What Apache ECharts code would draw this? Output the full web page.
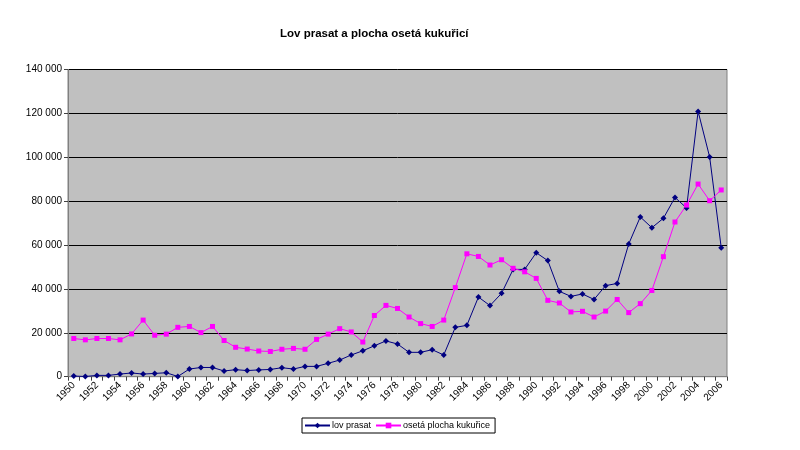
<!DOCTYPE html>
<html>
<head>
<meta charset="utf-8">
<script src="https://cdn.jsdelivr.net/npm/echarts@6/dist/echarts.min.js"></script>
<style>
html,body{margin:0;padding:0;background:#fff;}
#chart{width:800px;height:450px;}
</style>
</head>
<body>
<div id="chart"></div>
<script>
var years = ['1950','1951','1952','1953','1954','1955','1956','1957','1958','1959',
  '1960','1961','1962','1963','1964','1965','1966','1967','1968','1969',
  '1970','1971','1972','1973','1974','1975','1976','1977','1978','1979',
  '1980','1981','1982','1983','1984','1985','1986','1987','1988','1989',
  '1990','1991','1992','1993','1994','1995','1996','1997','1998','1999',
  '2000','2001','2002','2003','2004','2005','2006'];

var lovPrasat = [300,100,600,600,1200,1700,1200,1500,1800,100,
  3500,4200,4200,2600,3200,2800,3100,3300,4100,3500,
  4700,4700,6100,7600,9900,11800,14100,16300,14900,11100,
  11100,12300,9900,22500,23400,36300,32400,38000,48900,48900,
  56500,52900,38900,36600,37700,35200,41500,42500,60500,72800,
  67900,72200,81700,76900,120900,100100,58800];

var osetaPlocha = [17400,16800,17400,17400,16800,19500,25800,18900,19400,22500,
  22900,20100,22900,16500,13400,12600,11700,11500,12500,12900,
  12500,17000,19400,21900,20400,15800,27900,32500,31100,27200,
  24200,22900,25800,40600,56000,54800,50900,53300,49400,47800,
  44800,34800,33600,29500,29800,27200,29900,35200,29200,33300,
  39300,54700,70500,78200,87800,80200,85100];

var seriesNames = ['lov prasat', 'osetá plocha kukuřice'];
var titleText = 'Lov prasat a plocha osetá kukuřicí';

var FONT = '"Liberation Sans", Arial, sans-serif';

function fmt(v) {
  return String(v).replace(/\B(?=(\d{3})+(?!\d))/g, ' ');
}

var chart = echarts.init(document.getElementById('chart'), null, {renderer: 'canvas'});
chart.setOption({
  animation: false,
  backgroundColor: '#ffffff',
  textStyle: {fontFamily: FONT},
  title: {
    text: titleText,
    left: 280,
    top: 28,
    padding: 0,
    textStyle: {fontFamily: FONT, fontSize: 11.5, fontWeight: 'bold', color: '#000'}
  },
  legend: {
    data: seriesNames,
    left: 302,
    top: 418,
    orient: 'horizontal',
    padding: [3, 5, 3, 2],
    itemGap: 4,
    itemWidth: 25,
    itemHeight: 7,
    borderColor: '#000',
    borderWidth: 1,
    textStyle: {fontFamily: FONT, fontSize: 9, color: '#000', padding: [0, 0, 0, -3]}
  },
  grid: {
    left: 68,
    right: 73,
    top: 69.5,
    bottom: 73.3,
    show: true,
    backgroundColor: '#C0C0C0',
    borderColor: '#808080',
    borderWidth: 1
  },
  xAxis: {
    type: 'category',
    data: years,
    boundaryGap: true,
    axisLine: {show: true, lineStyle: {color: '#808080', width: 1}},
    axisTick: {show: true, interval: 0, length: 4, lineStyle: {color: '#404040'}},
    axisLabel: {
      interval: 1,
      rotate: 45,
      fontFamily: FONT,
      fontSize: 10,
      color: '#000',
      margin: 7
    },
    splitLine: {show: false}
  },
  yAxis: {
    type: 'value',
    min: 0,
    max: 140000,
    interval: 20000,
    axisLine: {show: true, lineStyle: {color: '#808080', width: 1}},
    axisTick: {show: true, length: 4, lineStyle: {color: '#404040'}},
    axisLabel: {
      fontFamily: FONT,
      fontSize: 10,
      color: '#000',
      margin: 6,
      formatter: function (v) { return fmt(v); }
    },
    splitLine: {show: true, lineStyle: {color: '#000', width: 1}}
  },
  series: [
    {
      name: seriesNames[0],
      type: 'line',
      data: lovPrasat,
      symbol: 'diamond',
      symbolSize: 6,
      itemStyle: {color: '#000080'},
      lineStyle: {color: '#000080', width: 1}
    },
    {
      name: seriesNames[1],
      type: 'line',
      data: osetaPlocha,
      symbol: 'rect',
      symbolSize: 5,
      itemStyle: {color: '#FF00FF'},
      lineStyle: {color: '#FF00FF', width: 1}
    }
  ]
});
</script>
</body>
</html>
